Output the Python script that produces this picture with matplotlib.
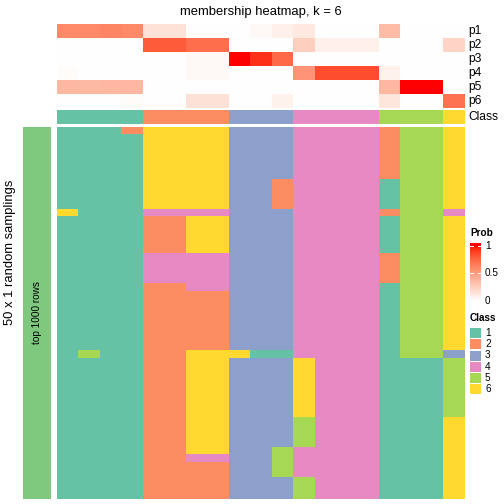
import numpy as np
import matplotlib
matplotlib.use("Agg")
import matplotlib.pyplot as plt
from matplotlib.colors import ListedColormap
from matplotlib.patches import Rectangle

plt.rcParams["font.family"] = ["Liberation Sans", "DejaVu Sans"]

# membership probabilities, one list per class row, 19 samples
prob_labels = ["p1", "p2", "p3", "p4", "p5", "p6"]
p1 = [0.60, 0.60, 0.62, 0.60, 0.15, 0.15, 0, 0, 0, 0.03, 0.08, 0.12, 0, 0, 0, 0.35, 0, 0, 0]
p2 = [0, 0, 0, 0, 0.80, 0.80, 0.72, 0.72, 0, 0, 0, 0.25, 0.08, 0.08, 0.08, 0, 0, 0, 0.22]
p3 = [0, 0, 0, 0, 0, 0, 0.03, 0.03, 1.0, 0.93, 0.74, 0, 0, 0, 0, 0, 0, 0, 0]
p4 = [0.02, 0, 0, 0, 0, 0, 0.03, 0.03, 0, 0, 0, 0.55, 0.85, 0.85, 0.85, 0.07, 0, 0, 0]
p5 = [0.37, 0.36, 0.37, 0.37, 0, 0, 0, 0, 0, 0, 0, 0, 0, 0, 0, 0.37, 1.0, 1.0, 0]
p6 = [0, 0, 0, 0.02, 0, 0, 0.16, 0.16, 0, 0, 0.07, 0, 0, 0, 0, 0.13, 0, 0, 0.70]

# consensus class per sample
sample_class = [1, 1, 1, 1, 2, 2, 2, 2, 3, 3, 3, 4, 4, 4, 4, 5, 5, 5, 6]

# class calls in each of the 50 random samplings (one string per sampling)
samplings = (
    ["1112666633344442556"]
    + ["1111666633344442556"] * 6
    + ["1111666633244441556"] * 4
    + ["6111444433344442554"]
    + ["1111226633344441556"] * 5
    + ["1111444433344442556"] * 4
    + ["1111224433344441556"]
    + ["1111222233344441556"] * 8
    + ["1511226661144441553"]
    + ["1111226633364441115"] * 8
    + ["1111226633354441116"] * 4
    + ["1111226633544441116"]
    + ["1111224433544441116"]
    + ["1111222233544441116"] * 2
    + ["1111222233354441116"] * 3
)

class_names = ["1", "2", "3", "4", "5", "6"]
class_colors = ["#66C2A5", "#FC8D62", "#8DA0CB", "#E78AC3", "#A6D854", "#FFD92F"]
prob_ticks = [0, 0.5, 1]


def lab_to_rgb(L, a, b):
    fy = (L + 16) / 116
    fx = fy + a / 500
    fz = fy - b / 200

    def finv(f):
        return np.where(f ** 3 > 0.008856, f ** 3, (f - 16 / 116) / 7.787)

    X = 0.95047 * finv(fx)
    Y = 1.0 * finv(fy)
    Z = 1.08883 * finv(fz)
    r = 3.2406 * X - 1.5372 * Y - 0.4986 * Z
    g = -0.9689 * X + 1.8758 * Y + 0.0415 * Z
    bb = 0.0557 * X - 0.2040 * Y + 1.0570 * Z
    rgb = np.clip(np.stack([r, g, bb], axis=-1), 0, 1)
    return np.where(rgb > 0.0031308, 1.055 * rgb ** (1 / 2.4) - 0.055, 12.92 * rgb)


# white -> red ramp interpolated in LAB space
t = np.linspace(0, 1, 256)
ramp = lab_to_rgb(100 + t * (53.24 - 100), t * 80.09, t * 67.20)
prob_cmap = ListedColormap(ramp)
class_cmap = ListedColormap(class_colors)

W = H = 504
fig = plt.figure(figsize=(W / 72, H / 72), dpi=72)


def ax_px(x0, y0, x1, y1):
    ax = fig.add_axes([x0 / W, 1 - y1 / H, (x1 - x0) / W, (y1 - y0) / H])
    ax.set_axis_off()
    return ax


def text_px(x, y, s, **kw):
    fig.text(x / W, 1 - y / H, s, **kw)


text_px(261, 12, "membership heatmap, k = 6", ha="center", va="center", fontsize=13)

# membership rows
prob = np.array([p1, p2, p3, p4, p5, p6])
ax = ax_px(57, 24, 465, 108)
ax.imshow(prob, cmap=prob_cmap, vmin=0, vmax=1, aspect="auto", interpolation="nearest")
for i, lab in enumerate(prob_labels):
    text_px(468, 24 + 14 * (i + 0.5), lab, ha="left", va="center", fontsize=12)

# class annotation row
ax = ax_px(57, 110, 465, 124)
ax.imshow(np.array([sample_class]) - 1, cmap=class_cmap, vmin=-0.5, vmax=5.5,
          aspect="auto", interpolation="nearest")
text_px(468, 117, "Class", ha="left", va="center", fontsize=12)

# main heatmap of sampling class calls
mat = np.array([[int(c) for c in row] for row in samplings])
ax = ax_px(57, 127, 465, 499)
ax.imshow(mat - 1, cmap=class_cmap, vmin=-0.5, vmax=5.5, aspect="auto", interpolation="nearest")

# left row annotation
ax = ax_px(23, 127, 51, 499)
ax.add_patch(Rectangle((0, 0), 1, 1, color="#7FC97F", transform=ax.transAxes))
ax.text(0.5, 0.5, "top 1000 rows", rotation=90, ha="center", va="center",
        fontsize=10, transform=ax.transAxes)
text_px(10.5, 252, "50 x 1 random samplings", rotation=90, ha="center", va="center", fontsize=13)

# Prob legend
text_px(470, 233, "Prob", ha="left", va="center", fontsize=10, fontweight="bold")
ax = ax_px(470, 243, 481, 301)
grad = np.linspace(0, 1.05, 200)[:, None]
ax.imshow(grad, cmap=prob_cmap, vmin=0, vmax=1, origin="lower", aspect="auto",
          extent=[0, 1, 0, 1.05])
ax.set_xlim(0, 1)
ax.set_ylim(0, 1.05)
for v in prob_ticks:
    ax.plot([0, 0.25], [v, v], color="white", lw=1)
    ax.plot([0.75, 1], [v, v], color="white", lw=1)
    text_px(485, 301 - 55.3 * v, f"{v:g}", ha="left", va="center", fontsize=10)

# Class legend
text_px(470, 318, "Class", ha="left", va="center", fontsize=10, fontweight="bold")
for i, (name, col) in enumerate(zip(class_names, class_colors)):
    yc = 333.3 + 11.1 * i
    fig.add_artist(Rectangle((470 / W, 1 - (yc + 5) / H), 11 / W, 10 / H,
                             facecolor=col, edgecolor="none", transform=fig.transFigure))
    text_px(485, yc, name, ha="left", va="center", fontsize=10)

fig.savefig("out.png", dpi=72)
